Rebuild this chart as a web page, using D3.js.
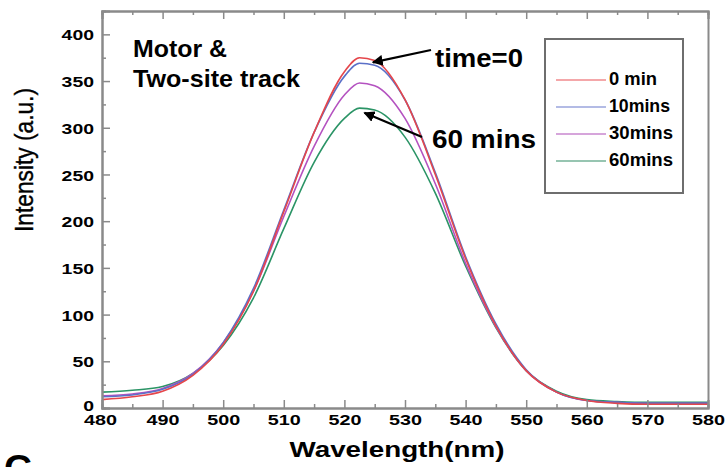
<!DOCTYPE html>
<html>
<head>
<meta charset="utf-8">
<script src="https://cdn.jsdelivr.net/npm/d3@7"></script>
<style>
  body { margin: 0; background: #fff; }
  svg { display: block; font-family: "Liberation Sans", Arial, sans-serif; }
</style>
</head>
<body>
<script>
// wavelength samples (nm)
const wavelengths = [480, 485, 490, 495, 500, 505, 510, 515, 520, 522.5, 525, 530, 535, 540, 545, 550, 555, 560, 565, 570, 575, 580];
// intensity for each time point
const min0  = [9, 12, 18, 35, 68, 125, 210, 295, 360, 375, 372, 330, 250, 160, 88, 40, 17, 8, 5, 4, 4, 4];
const min10 = [12, 14, 20, 36, 70, 128, 212, 295, 355, 369, 367, 330, 252, 162, 90, 41, 17, 8, 6, 5, 5, 5];
const min30 = [13, 15, 21, 37, 70, 125, 205, 280, 335, 348, 345, 310, 240, 155, 87, 40, 17, 8, 6, 5, 5, 5];
const min60 = [17, 19, 23, 37, 67, 118, 192, 263, 310, 321, 319, 290, 230, 152, 86, 40, 18, 9, 7, 6, 6, 6];
const seriesNames = ["0 min", "10mins", "30mins", "60mins"];
const seriesColors = ["#e5464b", "#5b70c8", "#b452c0", "#2b9466"];
const legendColors = ["#f08a8c", "#9aa5dc", "#c987cf", "#74b297"];
const xTicks = [480, 490, 500, 510, 520, 530, 540, 550, 560, 570, 580];
const yTicks = [0, 50, 100, 150, 200, 250, 300, 350, 400];

const w = 726, h = 467;
const plotL = 102, plotR = 708, plotT = 11, plotB = 408;

const svg = d3.select("body").append("svg")
    .attr("width", w)
    .attr("height", h);

const x = d3.scaleLinear().domain([480, 580]).range([plotL, plotR]);
const y = d3.scaleLinear().domain([0, 425]).range([plotB, plotT]);

// helper for text that has to fit a given width
function label(txt, px, py, size, width, opts) {
    opts = opts || {};
    const t = svg.append("text")
        .attr("x", px)
        .attr("y", py)
        .attr("font-size", size)
        .attr("font-weight", opts.weight || "bold")
        .attr("text-anchor", opts.anchor || "start")
        .attr("fill", "#000")
        .text(txt);
    if (width) t.attr("textLength", width).attr("lengthAdjust", "spacingAndGlyphs");
    if (opts.transform) t.attr("transform", opts.transform);
    return t;
}

// curves
const data = [min0, min10, min30, min60];
const line = d3.line()
    .x((d, i) => x(wavelengths[i]))
    .y(d => y(d))
    .curve(d3.curveMonotoneX);

// draw 60 first so red sits on top like the original
[3, 2, 1, 0].forEach(k => {
    svg.append("path")
        .datum(data[k])
        .attr("d", line)
        .attr("fill", "none")
        .attr("stroke", seriesColors[k])
        .attr("stroke-width", 1.6);
});

// axes, ticks pointing inward
const frameColor = "#8a8a8a";
const bottomAxis = svg.append("g")
    .attr("transform", `translate(0,${plotB})`)
    .call(d3.axisBottom(x).tickValues(xTicks).tickSize(-8).tickPadding(10));
svg.append("g")
    .attr("transform", `translate(0,${plotB})`)
    .call(d3.axisBottom(x).tickValues(d3.range(485, 580, 10)).tickSize(-4).tickFormat(""));
svg.append("g")
    .attr("transform", `translate(0,${plotT})`)
    .call(d3.axisTop(x).tickValues(xTicks).tickSize(-8).tickFormat(""));
svg.append("g")
    .attr("transform", `translate(0,${plotT})`)
    .call(d3.axisTop(x).tickValues(d3.range(485, 580, 10)).tickSize(-4).tickFormat(""));
const leftAxis = svg.append("g")
    .attr("transform", `translate(${plotL},0)`)
    .call(d3.axisLeft(y).tickValues(yTicks).tickSize(-8).tickPadding(8));
svg.append("g")
    .attr("transform", `translate(${plotL},0)`)
    .call(d3.axisLeft(y).tickValues(d3.range(25, 425, 50)).tickSize(-4).tickFormat(""));
svg.append("g")
    .attr("transform", `translate(${plotR},0)`)
    .call(d3.axisRight(y).tickValues([]).tickSize(0));

svg.selectAll(".domain").attr("stroke", frameColor).attr("stroke-width", 2);
svg.selectAll(".tick line").attr("stroke", frameColor).attr("stroke-width", 1.5);

bottomAxis.selectAll("text")
    .attr("font-size", 15.5)
    .attr("font-weight", "bold")
    .attr("font-family", "Liberation Sans, Arial, sans-serif")
    .attr("fill", "#000")
    .attr("dy", "0.45em")
    .attr("dx", d => d === 480 ? -2 : 0)
    .attr("textLength", 33)
    .attr("lengthAdjust", "spacingAndGlyphs");
leftAxis.selectAll("text")
    .attr("font-size", 15.5)
    .attr("font-weight", "bold")
    .attr("font-family", "Liberation Sans, Arial, sans-serif")
    .attr("fill", "#000")
    .attr("dy", d => d === 0 ? "0.15em" : "0.36em")
    .each(function (d) {
        const n = String(d).length;
        d3.select(this).attr("textLength", n * 10.8).attr("lengthAdjust", "spacingAndGlyphs");
    });

// axis titles
label("Wavelength(nm)", 397, 457, 22, 215, { anchor: "middle" });
label("Intensity (a.u.)", 0, 0, 26, 144, {
    anchor: "middle", weight: "normal", transform: "translate(33,160) rotate(-90)"
}).attr("stroke", "#000").attr("stroke-width", 0.4);

// panel letter, cut off by the bottom edge
label("C", 4, 481, 36, 28);

// annotations
label("Motor &", 133, 57, 24, 94);
label("Two-site track", 133, 87, 24, 167);
label("time=0", 435, 67, 25, 88);
label("60 mins", 432, 148, 26, 104);

svg.append("defs").append("marker")
    .attr("id", "head")
    .attr("viewBox", "0 0 10 10")
    .attr("refX", 9).attr("refY", 5)
    .attr("markerWidth", 5).attr("markerHeight", 5)
    .attr("orient", "auto")
    .append("path")
    .attr("d", "M0,0 L10,5 L0,10 z")
    .attr("fill", "#000");

svg.append("line")
    .attr("x1", 431).attr("y1", 50)
    .attr("x2", x(524.7)).attr("y2", y(370))
    .attr("stroke", "#000").attr("stroke-width", 2.2)
    .attr("marker-end", "url(#head)");
svg.append("line")
    .attr("x1", 422).attr("y1", 137)
    .attr("x2", x(523.3)).attr("y2", y(316))
    .attr("stroke", "#000").attr("stroke-width", 2.2)
    .attr("marker-end", "url(#head)");

// legend
const lg = svg.append("g");
lg.append("rect")
    .attr("x", 545).attr("y", 39)
    .attr("width", 138).attr("height", 154)
    .attr("fill", "#fff")
    .attr("stroke", "#6e6e6e")
    .attr("stroke-width", 2);
const legendWidths = [48, 61, 64, 64];
seriesNames.forEach((name, i) => {
    const ly = 80 + i * 27;
    lg.append("line")
        .attr("x1", 556).attr("x2", 606)
        .attr("y1", ly).attr("y2", ly)
        .attr("stroke", legendColors[i])
        .attr("stroke-width", 1.5);
    label(name, 609, ly + 5, 18, legendWidths[i]);
});
</script>
</body>
</html>
